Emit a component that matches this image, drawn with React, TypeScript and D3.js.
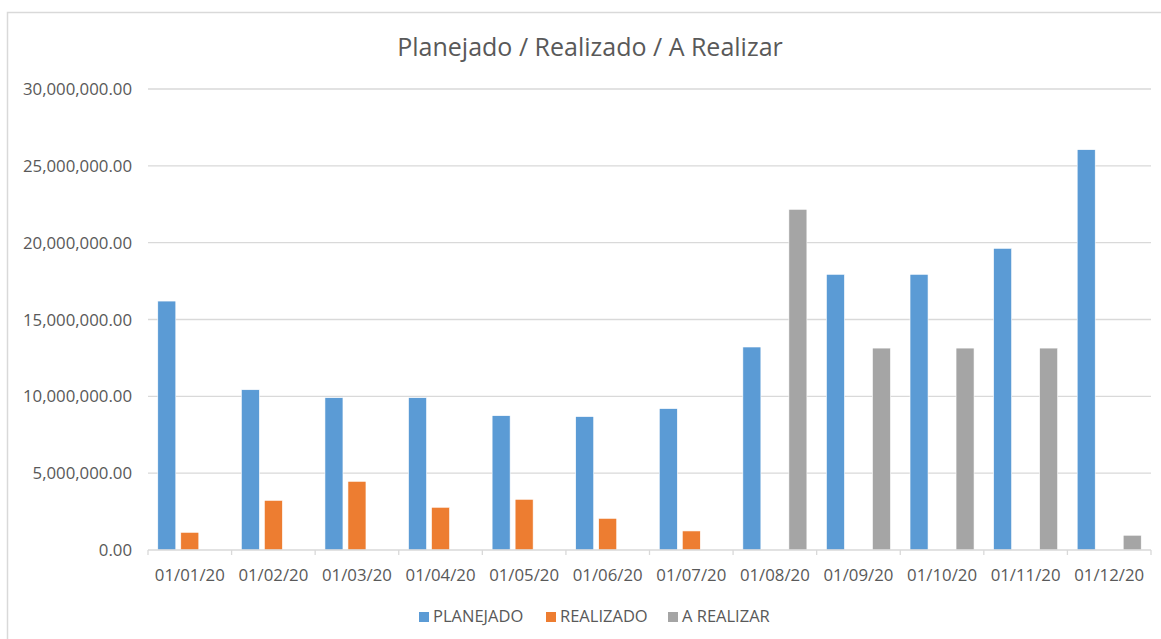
import React, { useEffect, useRef } from "react";
import * as d3 from "d3";

const months = [
  "01/01/20", "01/02/20", "01/03/20", "01/04/20", "01/05/20", "01/06/20",
  "01/07/20", "01/08/20", "01/09/20", "01/10/20", "01/11/20", "01/12/20",
];
const seriesNames = ["PLANEJADO", "REALIZADO", "A REALIZAR"];
const seriesColors = ["#5B9BD5", "#ED7D31", "#A5A5A5"];

const planejado = [16.2, 10.43, 9.91, 9.91, 8.74, 8.68, 9.2, 13.21, 17.94, 17.94, 19.63, 26.05].map((v) => v * 1e6);
const realizado = [1.15, 3.23, 4.47, 2.78, 3.3, 2.06, 1.24, 0, 0, 0, 0, 0].map((v) => v * 1e6);
const aRealizar = [0, 0, 0, 0, 0, 0, 0, 22.17, 13.14, 13.14, 13.14, 0.96].map((v) => v * 1e6);
const yTicks = [0, 5e6, 10e6, 15e6, 20e6, 25e6, 30e6];

const W = 1161;
const H = 639;
const FONT = "'Open Sans', sans-serif";
const TEXT = "#595959";
const GRID = "#D9D9D9";

export default function App() {
  const ref = useRef<SVGSVGElement>(null);

  useEffect(() => {
    if (!ref.current) return;
    const svg = d3.select(ref.current);
    svg.selectAll("*").remove();

    const plot = { left: 148, right: 1151, top: 89, bottom: 550 };
    const values = [planejado, realizado, aRealizar];

    // chart border
    svg.append("rect")
      .attr("x", 7.5).attr("y", 12.5)
      .attr("width", W + 20).attr("height", H + 20)
      .attr("fill", "#fff").attr("stroke", GRID).attr("stroke-width", 1.5);

    svg.append("text")
      .attr("x", 590).attr("y", 56)
      .attr("text-anchor", "middle")
      .style("font-family", FONT).style("font-size", "25px")
      .attr("fill", TEXT)
      .text("Planejado / Realizado / A Realizar");

    const x0 = d3.scaleBand<string>().domain(months).range([plot.left, plot.right]).padding(0);
    const pad = x0.bandwidth() * 0.117;
    const x1 = d3.scaleBand<number>()
      .domain([0, 1, 2])
      .range([pad, x0.bandwidth() - pad])
      .paddingInner(0.217);
    const y = d3.scaleLinear().domain([0, 30e6]).range([plot.bottom, plot.top]);

    // gridlines + y labels
    const fmt = d3.format(",.2f");
    yTicks.forEach((t) => {
      if (t > 0) {
        svg.append("line")
          .attr("x1", plot.left).attr("x2", plot.right)
          .attr("y1", y(t)).attr("y2", y(t))
          .attr("stroke", GRID).attr("stroke-width", 1.3);
      }
      svg.append("text")
        .attr("x", 132).attr("y", y(t) + 6)
        .attr("text-anchor", "end")
        .style("font-family", FONT).style("font-size", "16.8px")
        .attr("fill", TEXT)
        .text(fmt(t));
    });

    // bars
    months.forEach((m, i) => {
      values.forEach((vals, s) => {
        if (!vals[i]) return;
        svg.append("rect")
          .attr("x", (x0(m) as number) + (x1(s) as number))
          .attr("y", y(vals[i]))
          .attr("width", x1.bandwidth())
          .attr("height", y(0) - y(vals[i]))
          .attr("fill", seriesColors[s])
          .attr("stroke", "#fff").attr("stroke-width", 0.6);
      });
    });

    // x axis
    svg.append("line")
      .attr("x1", plot.left).attr("x2", plot.right)
      .attr("y1", plot.bottom).attr("y2", plot.bottom)
      .attr("stroke", GRID).attr("stroke-width", 1.3);
    [...months.map((m) => x0(m) as number), plot.right].forEach((tx) => {
      svg.append("line")
        .attr("x1", tx).attr("x2", tx)
        .attr("y1", plot.bottom).attr("y2", plot.bottom + 5)
        .attr("stroke", GRID).attr("stroke-width", 1.3);
    });
    months.forEach((m) => {
      svg.append("text")
        .attr("x", (x0(m) as number) + x0.bandwidth() / 2)
        .attr("y", 581)
        .attr("text-anchor", "middle")
        .style("font-family", FONT).style("font-size", "16.8px")
        .attr("fill", TEXT)
        .text(m);
    });

    // legend
    const legendX = [419, 546, 668];
    seriesNames.forEach((name, s) => {
      svg.append("rect")
        .attr("x", legendX[s]).attr("y", 612)
        .attr("width", 10).attr("height", 10)
        .attr("fill", seriesColors[s]);
      svg.append("text")
        .attr("x", legendX[s] + 14).attr("y", 622)
        .style("font-family", FONT).style("font-size", "16.5px")
        .attr("fill", TEXT)
        .text(name);
    });
  }, []);

  return (
    <svg
      ref={ref}
      width={W}
      height={H}
      style={{ position: "absolute", left: 0, top: 0, display: "block", background: "#fff" }}
    />
  );
}
